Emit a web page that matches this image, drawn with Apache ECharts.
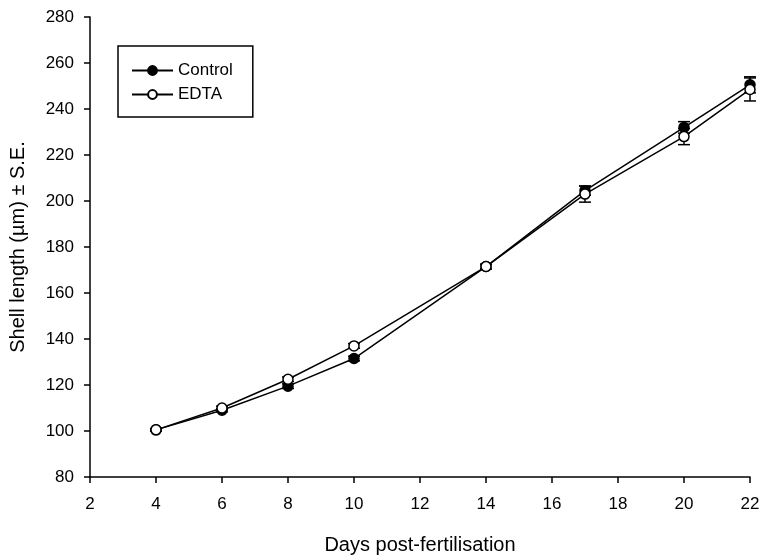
<!DOCTYPE html>
<html>
<head>
<meta charset="utf-8">
<script src="https://cdn.jsdelivr.net/npm/echarts@6/dist/echarts.min.js"></script>
<style>
  html, body { margin: 0; padding: 0; background: #fff; }
  #chart { width: 763px; height: 560px; }
</style>
</head>
<body>
<div id="chart"></div>
<script>
// days post-fertilisation
const days = [4, 6, 8, 10, 14, 17, 20, 22];
// mean shell length (µm)
const controlMean = [100.5, 109, 119.5, 131.5, 171.5, 204.5, 232, 250.5];
const edtaMean = [100.5, 110, 122.5, 137, 171.5, 203, 228, 248.5];
// standard error
const controlSE = [0.5, 0.7, 1, 1, 1, 2, 2.5, 3.5];
const edtaSE = [0.5, 0.8, 1, 1, 1, 3.5, 3.5, 5];

const font = 'Liberation Sans, Arial, sans-serif';

function pairs(ys) {
  return days.map((d, i) => [d, ys[i]]);
}
function errData(ys, se) {
  return days.map((d, i) => [d, ys[i] - se[i], ys[i] + se[i]]);
}

function renderErr(params, api) {
  const x = api.value(0);
  const lo = api.coord([x, api.value(1)]);
  const hi = api.coord([x, api.value(2)]);
  const w = 6;
  const style = { stroke: '#000', lineWidth: 1.5 };
  return {
    type: 'group',
    children: [
      { type: 'line', shape: { x1: lo[0], y1: lo[1], x2: hi[0], y2: hi[1] }, style },
      { type: 'line', shape: { x1: lo[0] - w, y1: lo[1], x2: lo[0] + w, y2: lo[1] }, style },
      { type: 'line', shape: { x1: hi[0] - w, y1: hi[1], x2: hi[0] + w, y2: hi[1] }, style }
    ]
  };
}

const chart = echarts.init(document.getElementById('chart'));
chart.setOption({
  animation: false,
  textStyle: { fontFamily: font },
  grid: { left: 89, right: 13, top: 17, bottom: 83, containLabel: false },
  legend: {
    left: 118,
    top: 46,
    orient: 'vertical',
    data: ['Control', 'EDTA'],
    itemWidth: 41,
    itemHeight: 11,
    itemGap: 7,
    padding: [16, 20, 14, 13],
    borderColor: '#000',
    borderWidth: 1.5,
    textStyle: { fontSize: 17, color: '#000', fontFamily: font }
  },
  xAxis: {
    type: 'value',
    min: 2,
    max: 22,
    interval: 2,
    name: 'Days post-fertilisation',
    nameLocation: 'middle',
    nameGap: 58,
    nameTextStyle: { fontSize: 20, color: '#000', fontFamily: font },
    axisLine: { lineStyle: { color: '#000', width: 1.5 } },
    axisTick: { inside: false, length: 6, lineStyle: { color: '#000', width: 1.5 } },
    axisLabel: { fontSize: 17, color: '#000', margin: 19, fontFamily: font },
    splitLine: { show: false }
  },
  yAxis: {
    type: 'value',
    min: 80,
    max: 280,
    interval: 20,
    name: 'Shell length (µm) ± S.E.',
    nameLocation: 'middle',
    nameRotate: 90,
    nameGap: 62,
    nameTextStyle: { fontSize: 20, color: '#000', fontFamily: font },
    axisLine: { show: true, lineStyle: { color: '#000', width: 1.5 } },
    axisTick: { show: true, inside: false, length: 6, lineStyle: { color: '#000', width: 1.5 } },
    axisLabel: { fontSize: 17, color: '#000', margin: 16, fontFamily: font },
    splitLine: { show: false }
  },
  series: [
    {
      type: 'custom',
      name: 'Control SE',
      renderItem: renderErr,
      data: errData(controlMean, controlSE),
      encode: { x: 0, y: [1, 2] },
      z: 1
    },
    {
      type: 'custom',
      name: 'EDTA SE',
      renderItem: renderErr,
      data: errData(edtaMean, edtaSE),
      encode: { x: 0, y: [1, 2] },
      z: 1
    },
    {
      type: 'line',
      name: 'Control',
      data: pairs(controlMean),
      symbol: 'circle',
      symbolSize: 10,
      lineStyle: { color: '#000', width: 1.5 },
      itemStyle: { color: '#000', borderColor: '#000', borderWidth: 1.5 },
      z: 2
    },
    {
      type: 'line',
      name: 'EDTA',
      data: pairs(edtaMean),
      symbol: 'circle',
      symbolSize: 10,
      lineStyle: { color: '#000', width: 1.5 },
      itemStyle: { color: '#fff', borderColor: '#000', borderWidth: 1.5 },
      z: 3
    }
  ]
});
</script>
</body>
</html>
